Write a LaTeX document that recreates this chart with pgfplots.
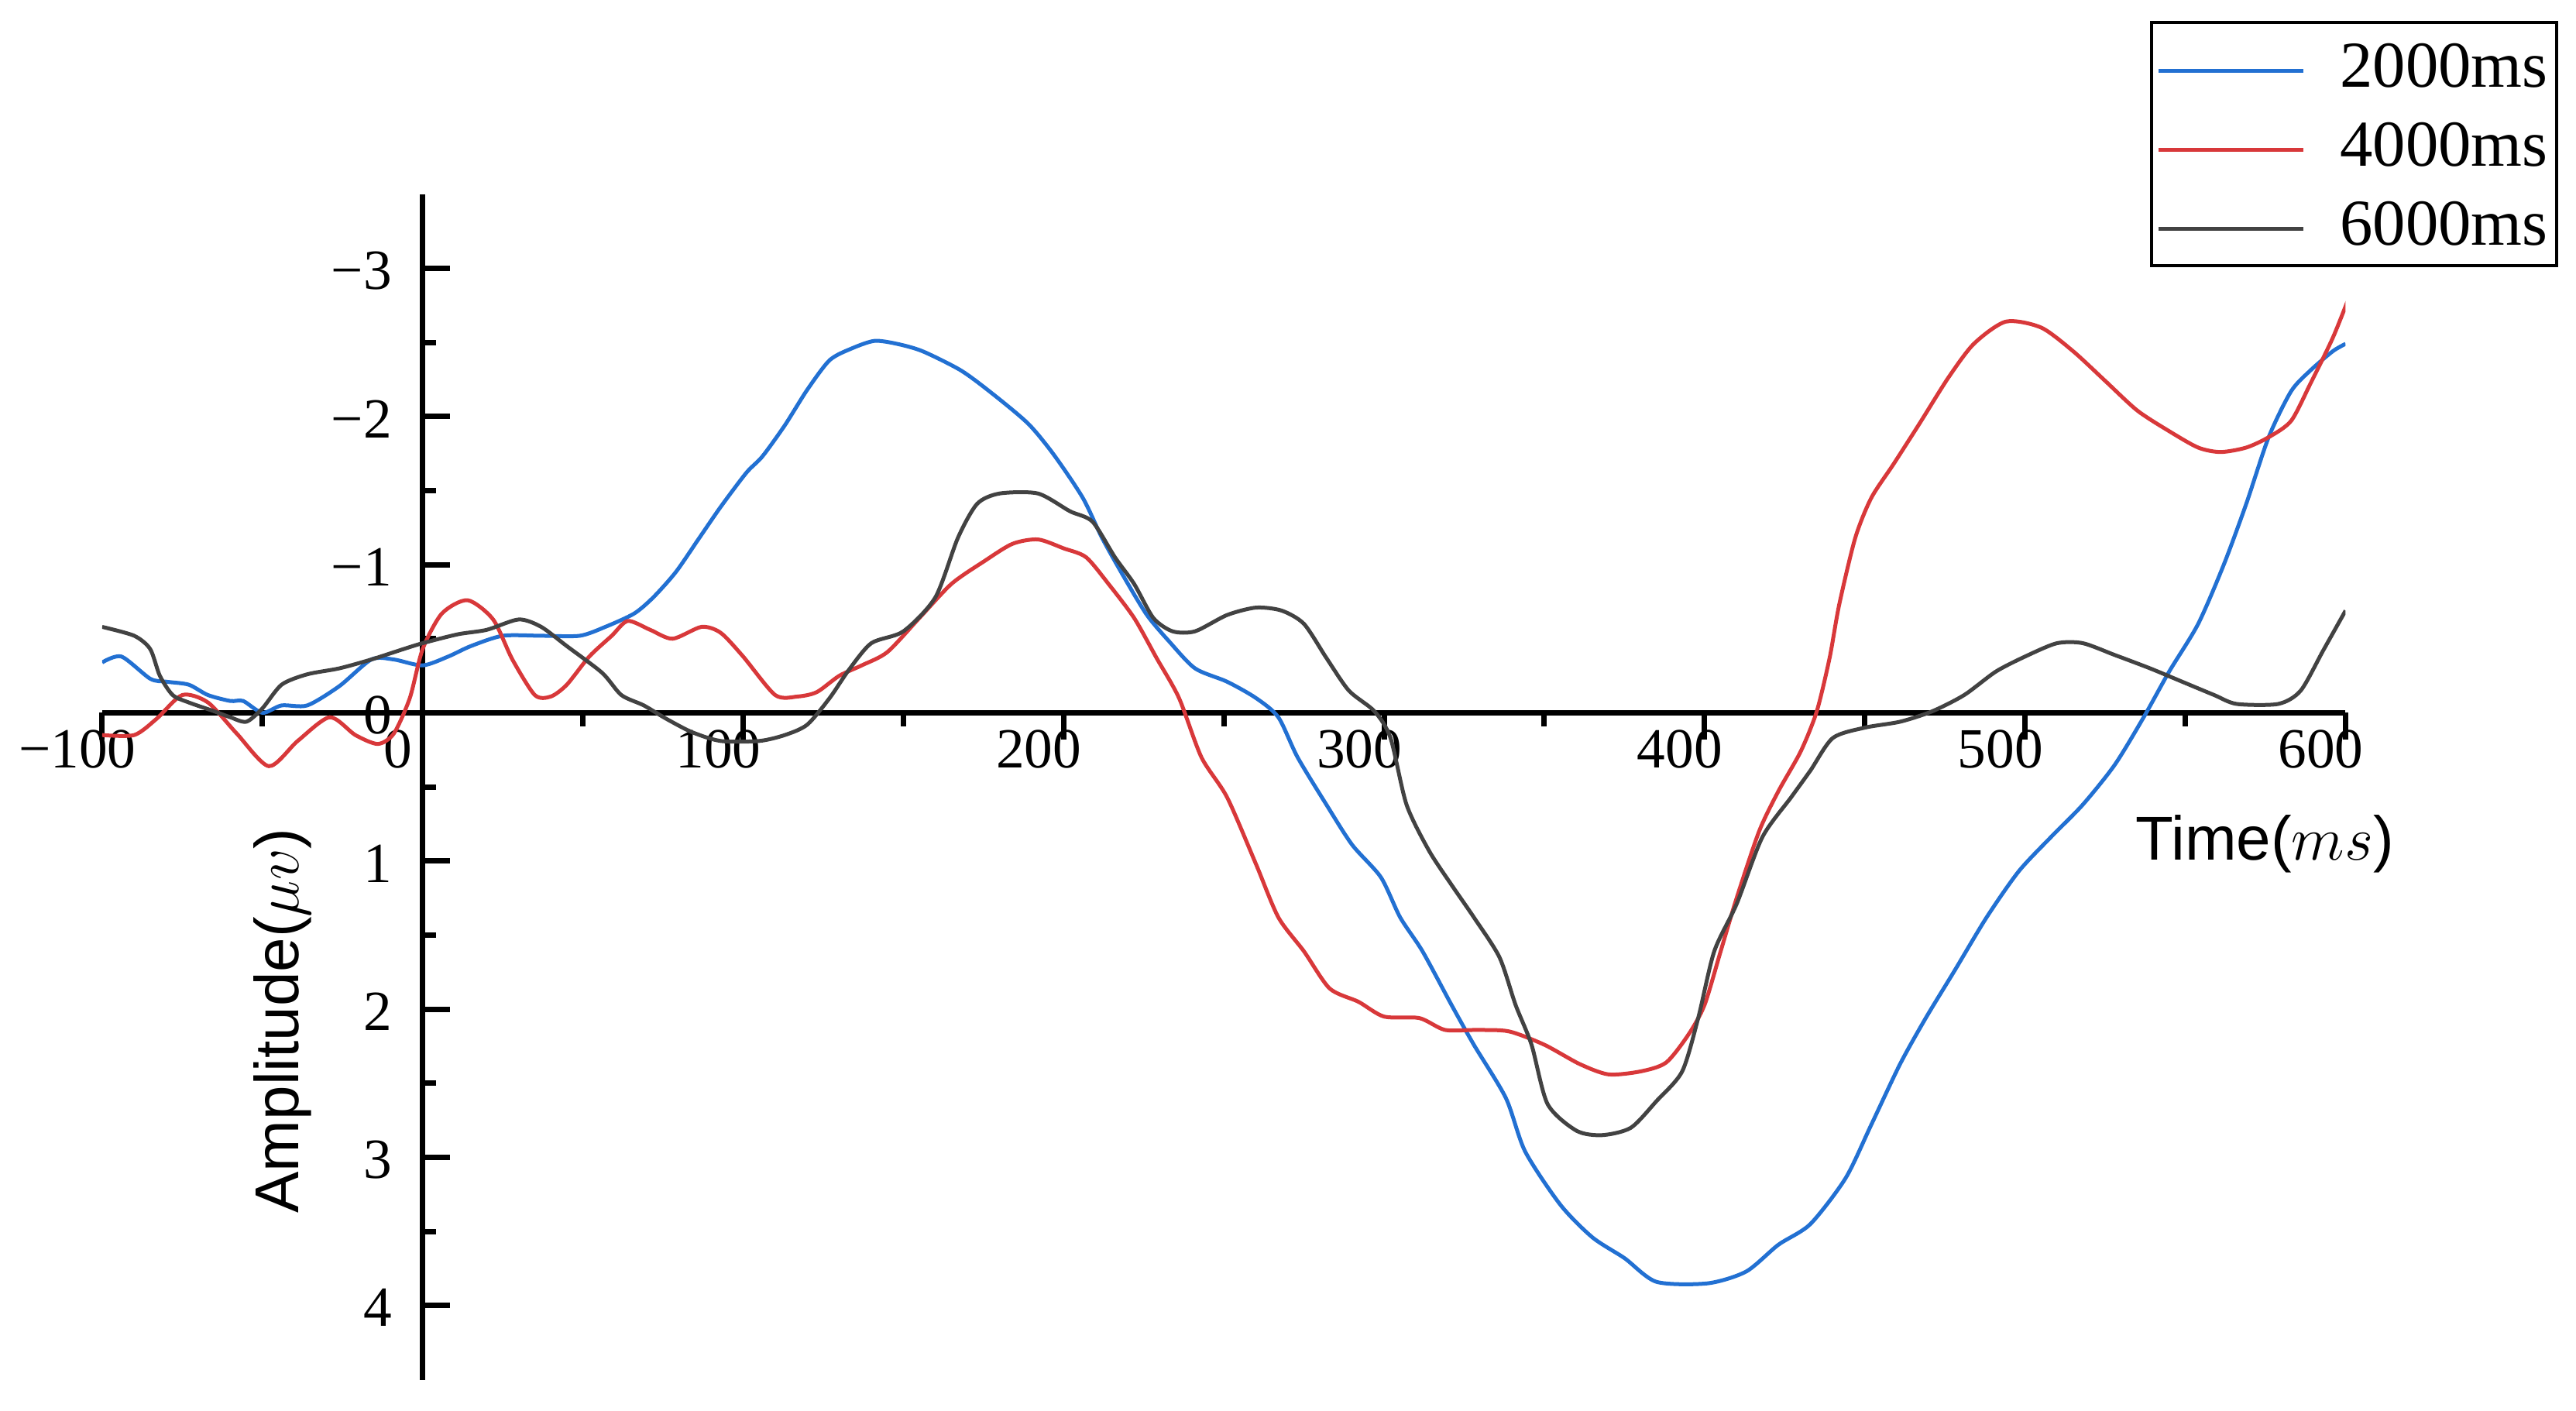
\documentclass[border=0pt]{standalone}
\usepackage{fontspec}
\setmainfont{Liberation Serif}
\newfontfamily\arialfont{Liberation Sans}
\usepackage{pgfplots}
\pgfplotsset{compat=1.18}

\definecolor{c2000}{RGB}{34,112,210}
\definecolor{c4000}{RGB}{216,56,58}
\definecolor{c6000}{RGB}{66,66,66}

\pgfplotstableread{
t v
-100 -0.34
-94 -0.38
-85 -0.23
-80 -0.21
-73 -0.19
-67 -0.12
-60 -0.08
-56 -0.08
-50 0.00
-44 -0.05
-36 -0.05
-26 -0.18
-16 -0.36
-9 -0.36
0 -0.32
8 -0.38
15 -0.45
25 -0.52
37 -0.52
49 -0.52
57 -0.58
66 -0.67
72 -0.78
79 -0.95
86 -1.17
93 -1.39
101 -1.62
106 -1.73
113 -1.94
120 -2.18
127 -2.38
134 -2.46
141 -2.51
148 -2.49
156 -2.44
168 -2.31
178 -2.15
189 -1.95
197 -1.74
206 -1.45
212 -1.18
219 -0.91
226 -0.66
233 -0.48
241 -0.30
251 -0.21
260 -0.10
267 0.03
273 0.30
282 0.62
290 0.89
299 1.11
305 1.38
312 1.61
321 1.97
328 2.24
338 2.60
344 2.96
355 3.32
365 3.54
375 3.68
385 3.84
401 3.85
413 3.77
423 3.59
433 3.45
444 3.14
452 2.78
461 2.37
469 2.06
478 1.74
488 1.38
498 1.07
508 0.84
518 0.62
528 0.35
537 0.03
545 -0.28
554 -0.60
562 -1.00
569 -1.41
576 -1.86
583 -2.17
589 -2.31
596 -2.44
600 -2.49
}\dataA

\pgfplotstableread{
t v
-100 0.15
-90 0.15
-83 0.04
-75 -0.12
-67 -0.07
-58 0.14
-48 0.36
-39 0.19
-29 0.03
-21 0.15
-14 0.21
-9 0.14
-4 -0.10
0 -0.43
6 -0.67
14 -0.76
22 -0.63
28 -0.36
35 -0.12
40 -0.11
45 -0.19
52 -0.38
59 -0.52
64 -0.62
71 -0.56
78 -0.50
87 -0.58
93 -0.54
100 -0.38
110 -0.12
117 -0.11
123 -0.14
130 -0.25
137 -0.32
145 -0.41
155 -0.64
165 -0.87
175 -1.02
184 -1.14
192 -1.17
200 -1.11
207 -1.05
214 -0.87
222 -0.64
229 -0.37
236 -0.10
243 0.30
251 0.57
260 1.02
267 1.38
275 1.61
283 1.86
292 1.95
300 2.05
311 2.06
319 2.14
329 2.14
339 2.15
350 2.24
361 2.37
370 2.44
380 2.42
388 2.36
395 2.17
400 1.97
405 1.61
410 1.25
417 0.80
423 0.53
430 0.26
435 -0.01
439 -0.37
442 -0.73
447 -1.18
452 -1.45
459 -1.68
467 -1.95
476 -2.26
484 -2.49
494 -2.64
505 -2.60
515 -2.44
525 -2.24
535 -2.04
545 -1.90
554 -1.79
561 -1.76
569 -1.79
576 -1.86
583 -1.97
589 -2.22
596 -2.53
601 -2.80
}\dataB

\pgfplotstableread{
t v
-100 -0.58
-90 -0.52
-85 -0.43
-82 -0.25
-78 -0.12
-73 -0.07
-65 -0.01
-60 0.03
-55 0.06
-50 -0.03
-44 -0.19
-36 -0.26
-26 -0.30
-16 -0.36
-6 -0.43
0 -0.47
11 -0.53
20 -0.56
30 -0.63
37 -0.58
45 -0.45
56 -0.27
62 -0.12
69 -0.05
76 0.04
84 0.13
93 0.19
105 0.19
113 0.15
120 0.08
127 -0.10
133 -0.29
140 -0.47
150 -0.55
160 -0.78
167 -1.18
173 -1.41
180 -1.48
192 -1.48
202 -1.36
209 -1.29
216 -1.05
222 -0.87
228 -0.64
234 -0.55
241 -0.55
251 -0.66
260 -0.71
268 -0.69
275 -0.60
282 -0.37
289 -0.15
297 -0.01
302 0.17
307 0.62
314 0.93
321 1.16
328 1.38
336 1.65
341 1.97
346 2.24
351 2.64
360 2.82
368 2.85
377 2.80
385 2.62
393 2.42
398 2.06
403 1.61
410 1.29
418 0.84
427 0.57
433 0.39
440 0.17
450 0.10
461 0.06
471 -0.01
481 -0.12
491 -0.28
501 -0.39
510 -0.47
518 -0.47
528 -0.39
539 -0.30
549 -0.21
559 -0.12
566 -0.06
579 -0.06
586 -0.15
593 -0.42
600 -0.69
}\dataC

\begin{document}
\begin{tikzpicture}
\begin{axis}[
  at={(0pt,0pt)}, anchor=south west,
  scale only axis, width=434.49pt, height=229.62pt,
  xmin=-100, xmax=600, ymin=-3.5, ymax=4.5,
  y dir=reverse,
  axis lines=middle,
  axis line style={-, line width=1.05pt, black},
  hide obscured x ticks=false, hide obscured y ticks=false,
  xtick={-100,0,...,600},
  xticklabels={−100,0,100,200,300,400,500,600},
  ytick={-3,-2,...,4},
  yticklabels={−3,−2,−1,0,1,2,3,4},
  minor x tick num=1, minor y tick num=1,
  tick align=inside,
  major tick length=5.25pt, minor tick length=2.6pt,
  tick style={line width=1.05pt, black},
  xticklabel style={anchor=north, inner sep=0pt, yshift=-3.15pt, xshift=-4.8pt, font=\fontsize{11}{13}\selectfont},
  yticklabel style={anchor=east, inner sep=0pt, xshift=-5.8pt, yshift=-0.45pt, font=\fontsize{11}{13}\selectfont},
  every axis x label/.style={at={(axis description cs:0.964,0.452)}, anchor=center, font=\arialfont\fontsize{12}{14}\selectfont},
  every axis y label/.style={at={(axis description cs:0.0805,0.3028)}, anchor=center, rotate=90, font=\arialfont\fontsize{12}{14}\selectfont},
  xlabel={Time($ms$)},
  ylabel={Amplitude($\mu v$)},
  legend style={at={(axis description cs:1.0948,1.1461)}, anchor=north east,
    draw=black, line width=0.6pt, fill=white, inner xsep=0pt, inner ysep=0.6pt,
    font=\fontsize{12.7}{14}\selectfont,
    nodes={inner xsep=1.7pt, inner ysep=0pt, text height=11.95pt, text depth=3.35pt},
    column sep=5pt, row sep=0pt},
  legend cell align=left,
  legend image code/.code={\path (-0.95pt,-1.1pt);
    \draw[#1, line width=0.85pt] (0pt,-1.1pt) -- (28.1pt,-1.1pt);},
  every axis plot/.append style={line width=0.75pt, smooth, tension=0.45},
]
\addplot[c2000] table[x=t, y=v] {\dataA};
\addlegendentry{2000ms}
\addplot[c4000] table[x=t, y=v] {\dataB};
\addlegendentry{4000ms}
\addplot[c6000] table[x=t, y=v] {\dataC};
\addlegendentry{6000ms}
\end{axis}
\pgfresetboundingbox
\path (-19.785pt,-6.075pt) rectangle (479.115pt,267.225pt);
\end{tikzpicture}
\end{document}
